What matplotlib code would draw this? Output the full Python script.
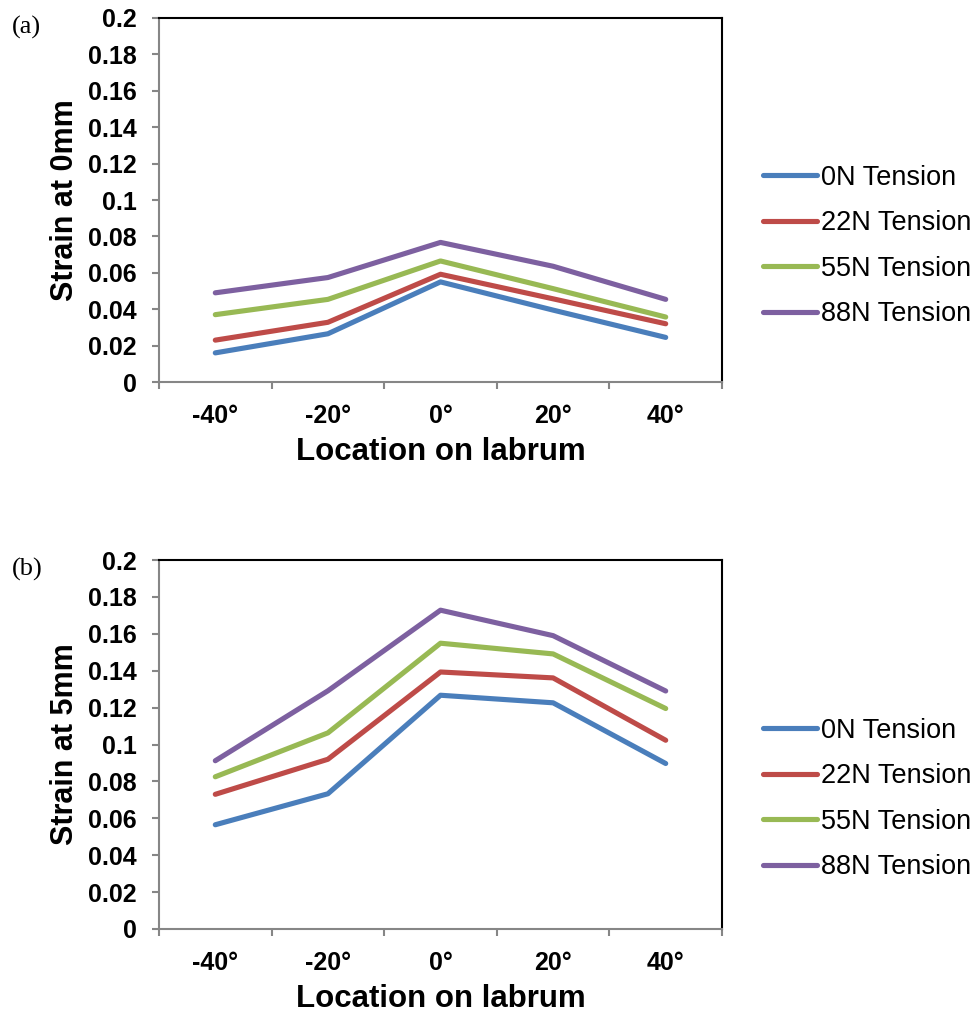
import numpy as np
import matplotlib.pyplot as plt

plt.rcParams['font.family'] = ['Liberation Sans', 'DejaVu Sans']

locations = ['-40°', '-20°', '0°', '20°', '40°']
series_names = ['0N Tension', '22N Tension', '55N Tension', '88N Tension']
colors = ['#4A7EBB', '#BE4B48', '#98B954', '#7D60A0']

# strain at 0mm
strain_0mm = [
    [0.016, 0.0265, 0.055, 0.0395, 0.0245],
    [0.023, 0.0328, 0.0592, 0.0457, 0.032],
    [0.037, 0.0454, 0.0665, 0.0513, 0.0357],
    [0.049, 0.0574, 0.0767, 0.0636, 0.0454],
]

# strain at 5mm
strain_5mm = [
    [0.0565, 0.0733, 0.1267, 0.1226, 0.0897],
    [0.073, 0.0920, 0.1393, 0.1361, 0.1023],
    [0.0825, 0.1063, 0.1549, 0.1491, 0.1195],
    [0.0912, 0.1291, 0.1728, 0.1590, 0.1290],
]

W, H = 979, 1031
fig = plt.figure(figsize=(W / 100, H / 100), dpi=100)


def make_panel(bottom_px, top_px, data, ylabel, tag, legend_y):
    ax = fig.add_axes([159 / W, 1 - bottom_px / H, (722 - 159) / W, (bottom_px - top_px) / H])
    x = np.arange(len(locations))
    for vals, name, c in zip(data, series_names, colors):
        ax.plot(x, vals, color=c, lw=3.7, label=name, solid_capstyle='round', solid_joinstyle='round')
    ax.set_xlim(-0.5, len(locations) - 0.5)
    ax.set_ylim(0, 0.2)
    yt = np.round(np.arange(0, 0.201, 0.02), 2)
    ax.set_yticks(yt)
    ax.set_yticklabels(['0' if v == 0 else ('%g' % v) for v in yt], fontsize=18, fontweight='bold')
    ax.set_xticks(np.arange(-0.5, len(locations), 1.0))
    ax.set_xticklabels([])
    ax.set_xticks(x, minor=True)
    ax.set_xticklabels(locations, minor=True, fontsize=18, fontweight='bold')
    ax.tick_params(axis='x', which='minor', length=0, pad=16)
    ax.tick_params(axis='both', which='major', direction='out', length=5, width=1.5, color='#868686')
    ax.tick_params(axis='y', pad=11)
    for s in ['left', 'bottom']:
        ax.spines[s].set_color('#868686')
        ax.spines[s].set_linewidth(1.5)
    for s in ['top', 'right']:
        ax.spines[s].set_color('black')
        ax.spines[s].set_linewidth(1.5)
    ax.set_xlabel('Location on labrum', fontsize=22.5, fontweight='bold', labelpad=6)
    ax.set_ylabel(ylabel, fontsize=22, fontweight='bold', labelpad=6)
    ax.legend(loc='center left', bbox_to_anchor=(763 / W, 1 - legend_y / H),
              bbox_transform=fig.transFigure, frameon=False, fontsize=19.5,
              handlelength=2.0, handletextpad=0.15, labelspacing=0.72, borderaxespad=0,
              borderpad=0)
    fig.text(12 / W, 1 - (top_px + 9) / H, tag, fontsize=19, family='Liberation Serif',
             va='center', ha='left')
    return ax


make_panel(382, 18, strain_0mm, 'Strain at 0mm', '(a)', 246)
make_panel(929, 560, strain_5mm, 'Strain at 5mm', '(b)', 799)

fig.savefig('out.png', dpi=100)
